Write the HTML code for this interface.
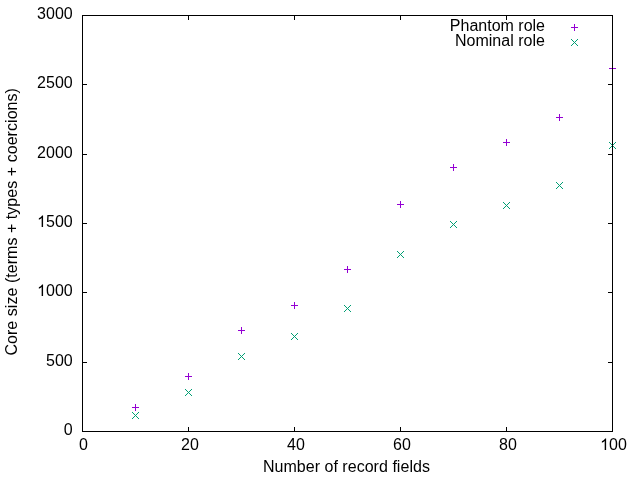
<!DOCTYPE html>
<html><head><meta charset="utf-8"><title>plot</title>
<style>
html,body{margin:0;padding:0;background:#fff;}
body{width:640px;height:480px;overflow:hidden;}
svg{display:block;will-change:transform;}
text{font-family:"Liberation Sans",sans-serif;font-size:16px;fill:#000;}
</style></head><body>
<svg width="640" height="480" viewBox="0 0 640 480">
<rect width="640" height="480" fill="#fff"/>
<g fill="none" stroke-width="1">
<path d="M132 407.5h7M135.5 404v7" stroke="#9400d3"/>
<path d="M185 376.5h7M188.5 373v7" stroke="#9400d3"/>
<path d="M238 330.5h7M241.5 327v7" stroke="#9400d3"/>
<path d="M291 305.5h7M294.5 302v7" stroke="#9400d3"/>
<path d="M344 269.5h7M347.5 266v7" stroke="#9400d3"/>
<path d="M397 204.5h7M400.5 201v7" stroke="#9400d3"/>
<path d="M450 167.5h7M453.5 164v7" stroke="#9400d3"/>
<path d="M503 142.5h7M506.5 139v7" stroke="#9400d3"/>
<path d="M556 117.5h7M559.5 114v7" stroke="#9400d3"/>
<path d="M609 68.5h7M612.5 65v7" stroke="#9400d3"/>
<path d="M132 412l7 7M132 419l7 -7" stroke="#009e73"/>
<path d="M185 389l7 7M185 396l7 -7" stroke="#009e73"/>
<path d="M238 353l7 7M238 360l7 -7" stroke="#009e73"/>
<path d="M291 333l7 7M291 340l7 -7" stroke="#009e73"/>
<path d="M344 305l7 7M344 312l7 -7" stroke="#009e73"/>
<path d="M397 251l7 7M397 258l7 -7" stroke="#009e73"/>
<path d="M450 221l7 7M450 228l7 -7" stroke="#009e73"/>
<path d="M503 202l7 7M503 209l7 -7" stroke="#009e73"/>
<path d="M556 182l7 7M556 189l7 -7" stroke="#009e73"/>
<path d="M609 142l7 7M609 149l7 -7" stroke="#009e73"/>
<path d="M571 27.5h7M574.5 24v7" stroke="#9400d3"/>
<path d="M571 39l7 7M571 46l7 -7" stroke="#009e73"/>
</g>
<g fill="#000" shape-rendering="crispEdges">
<rect x="82" y="431" width="5" height="1"/><rect x="608" y="431" width="5" height="1"/>
<rect x="82" y="362" width="5" height="1"/><rect x="608" y="362" width="5" height="1"/>
<rect x="82" y="292" width="5" height="1"/><rect x="608" y="292" width="5" height="1"/>
<rect x="82" y="223" width="5" height="1"/><rect x="608" y="223" width="5" height="1"/>
<rect x="82" y="154" width="5" height="1"/><rect x="608" y="154" width="5" height="1"/>
<rect x="82" y="84" width="5" height="1"/><rect x="608" y="84" width="5" height="1"/>
<rect x="82" y="15" width="5" height="1"/><rect x="608" y="15" width="5" height="1"/>
<rect x="82" y="427" width="1" height="5"/><rect x="82" y="15" width="1" height="5"/>
<rect x="188" y="427" width="1" height="5"/><rect x="188" y="15" width="1" height="5"/>
<rect x="294" y="427" width="1" height="5"/><rect x="294" y="15" width="1" height="5"/>
<rect x="400" y="427" width="1" height="5"/><rect x="400" y="15" width="1" height="5"/>
<rect x="506" y="427" width="1" height="5"/><rect x="506" y="15" width="1" height="5"/>
<rect x="612" y="427" width="1" height="5"/><rect x="612" y="15" width="1" height="5"/>
<rect x="82" y="15" width="531" height="1"/><rect x="82" y="431" width="531" height="1"/>
<rect x="82" y="15" width="1" height="417"/><rect x="612" y="15" width="1" height="417"/>
</g>
<g text-anchor="end">
<text x="72.7" y="435">0</text>
<text x="72.7" y="366">500</text>
<path d="M5.96 0H4.55V-8.96Q3.6 -8 1.74 -7.27V-8.63Q4.3 -9.8 5.03 -11.48H5.96Z" transform="translate(37.11,296)"/>
<text x="72.7" y="296">000</text>
<path d="M5.96 0H4.55V-8.96Q3.6 -8 1.74 -7.27V-8.63Q4.3 -9.8 5.03 -11.48H5.96Z" transform="translate(37.11,227)"/>
<text x="72.7" y="227">500</text>
<text x="72.7" y="158">2000</text>
<text x="72.7" y="88">2500</text>
<text x="72.7" y="19">3000</text>
<text x="545" y="31">Phantom role</text><text x="545" y="46" textLength="90.1" lengthAdjust="spacing">Nominal role</text>
</g>
<g text-anchor="middle">
<text x="83.5" y="450">0</text>
<text x="190.0" y="450">20</text>
<text x="296.0" y="450">40</text>
<text x="402.0" y="450">60</text>
<text x="508.0" y="450">80</text>
<text x="346.4" y="472" textLength="167" lengthAdjust="spacing">Number of record fields</text>
</g>
<path d="M5.96 0H4.55V-8.96Q3.6 -8 1.74 -7.27V-8.63Q4.3 -9.8 5.03 -11.48H5.96Z" transform="translate(600.15,450)"/>
<text x="609.05" y="450">00</text>
<text transform="translate(17,355.6) rotate(-90)" textLength="267.5" lengthAdjust="spacing">Core size (terms + types + coercions)</text>
</svg></body></html>
